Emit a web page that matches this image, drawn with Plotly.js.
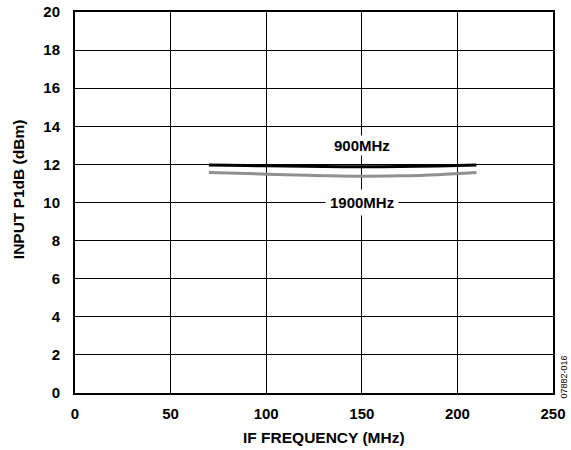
<!DOCTYPE html>
<html>
<head>
<meta charset="utf-8">
<script src="https://cdn.plot.ly/plotly-3.0.1.min.js"></script>
<style>html,body{margin:0;padding:0;background:#fff;}#chart{width:571px;height:450px;}</style>
</head>
<body>
<div id="chart"></div>
<script>
const ifFreq = [70, 90, 110, 130, 150, 170, 190, 210];
const p1dB900 = [11.97, 11.94, 11.91, 11.89, 11.88, 11.89, 11.92, 11.97];
const p1dB1900 = [11.58, 11.52, 11.46, 11.41, 11.38, 11.40, 11.46, 11.57];
const seriesNames = ["900MHz", "1900MHz"];
const xTicks = [0, 50, 100, 150, 200, 250];
const yTicks = [0, 2, 4, 6, 8, 10, 12, 14, 16, 18, 20];
const xTitle = "IF FREQUENCY (MHz)";
const yTitle = "INPUT P1dB (dBm)";

const fam = "Liberation Sans, Arial, sans-serif";

const traces = [
  {x: ifFreq, y: p1dB1900, mode: "lines", line: {color: "#909090", width: 3, shape: "spline"}, name: seriesNames[1], hoverinfo: "skip"},
  {x: ifFreq, y: p1dB900, mode: "lines", line: {color: "#000000", width: 3, shape: "spline"}, name: seriesNames[0], hoverinfo: "skip"}
];

const layout = {
  width: 571, height: 450,
  margin: {l: 75, r: 18, t: 12, b: 57},
  paper_bgcolor: "#fff", plot_bgcolor: "#fff",
  showlegend: false,
  font: {family: fam, size: 15, color: "#000"},
  xaxis: {
    range: [0, 250], tickvals: xTicks, ticktext: xTicks.map(String),
    showgrid: true, gridcolor: "#000", gridwidth: 1,
    showline: true, linecolor: "#000", linewidth: 2, mirror: true,
    zeroline: false, ticks: "", ticklen: 0, ticklabelstandoff: 6,
    tickfont: {family: fam, size: 15, color: "#000", weight: "bold"}
  },
  yaxis: {
    range: [0, 20], tickvals: yTicks, ticktext: yTicks.map(String),
    showgrid: true, gridcolor: "#000", gridwidth: 1,
    showline: true, linecolor: "#000", linewidth: 2, mirror: true,
    zeroline: false, ticks: "", ticklen: 0, ticklabelstandoff: 10,
    tickfont: {family: fam, size: 15, color: "#000", weight: "bold"}
  },
  annotations: [
    {x: 0.52, y: 0, xref: "paper", yref: "paper", yanchor: "middle", yshift: -44,
     text: "<b>" + xTitle + "</b>", showarrow: false, font: {family: fam, size: 15.5, color: "#000"}},
    {x: 0, y: 0.535, xref: "paper", yref: "paper", xanchor: "center", xshift: -57,
     text: "<b>" + yTitle + "</b>", textangle: -90, showarrow: false, font: {family: fam, size: 15.5, color: "#000"}},
    {x: 150, y: 12.97, xref: "x", yref: "y", text: "<b>" + seriesNames[0] + "</b>", showarrow: false,
     font: {family: fam, size: 15, color: "#000"}, bgcolor: "#fff", borderpad: 1},
    {x: 150, y: 10, xref: "x", yref: "y", text: "<b>" + seriesNames[1] + "</b>", showarrow: false,
     font: {family: fam, size: 15, color: "#000"}, bgcolor: "#fff", borderpad: 4},
    {x: 1, y: 0, xref: "paper", yref: "paper", xanchor: "left", yanchor: "bottom", xshift: 3, yshift: -8,
     text: "07882-016", textangle: -90, showarrow: false,
     font: {family: fam, size: 9, color: "#000"}}
  ]
};

Plotly.newPlot("chart", traces, layout, {staticPlot: true, displayModeBar: false});
</script>
</body>
</html>
